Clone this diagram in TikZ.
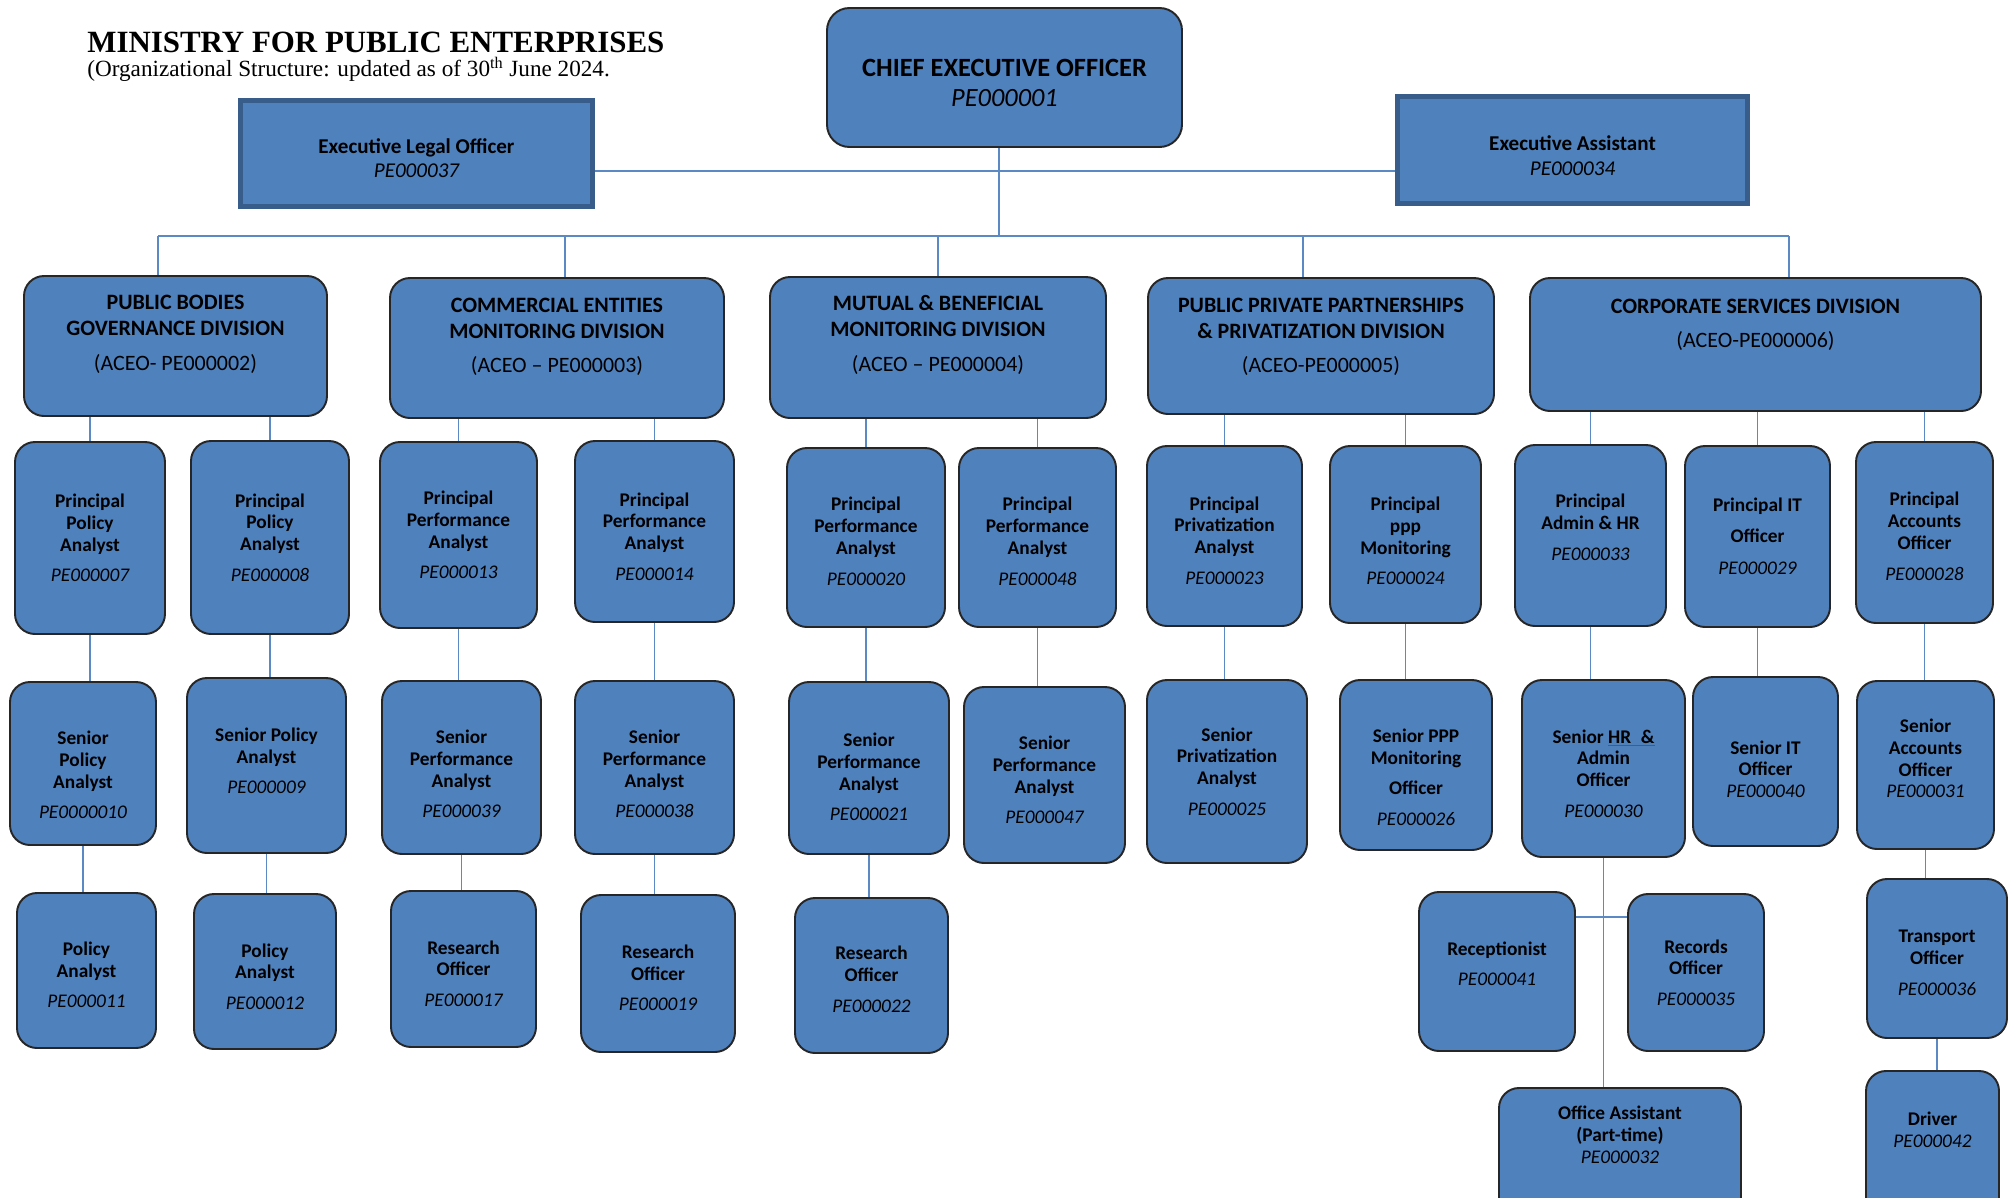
\documentclass[tikz,border=0pt]{standalone}
\usepackage{fontspec}
\setmainfont{Carlito}
\newfontfamily\titlefont{Liberation Serif}
\definecolor{peblue}{RGB}{79,129,189}
\definecolor{peedge}{RGB}{56,93,138}
\definecolor{pelink}{RGB}{91,137,196}
\definecolor{ulblue}{RGB}{40,90,220}
\newcommand{\px}{0.02cm}
\newcommand{\peid}[1]{{\mdseries\itshape #1}}
\newcommand{\markul}[1]{\textcolor{ulblue}{\underline{\textcolor{black}{#1}}}}
\newcommand{\pushdown}[1]{\rule{0pt}{\dimexpr\fontcharht\font`l+#1\relax}}
\tikzset{
  post/.style={draw=black!85, line width=1.1pt, fill=peblue, rounded corners=0.4cm, align=center, inner sep=1pt, font=\fontsize{11}{12.4}\selectfont\bfseries},
  division/.style={post, font=\fontsize{12.5}{14.7}\selectfont\bfseries},
  chief/.style={post, rounded corners=0.45cm, font=\fontsize{15}{17}\selectfont\bfseries},
  staff/.style={draw=peedge, line width=2.8pt, fill=peblue, align=center, font=\fontsize{12}{14}\selectfont\bfseries},
  link/.style={draw=pelink, line width=1.1pt},
  sz/.style 2 args={minimum width=#1*\px, minimum height=#2*\px}
}

\begin{document}
\begin{tikzpicture}[x=\px, y=-\px]
\fill[white] (0,0) rectangle (2011,1197);
\useasboundingbox (0,0) rectangle (2011,1197);
\clip (0,0) rectangle (2011,1197);

\node[anchor=base west, inner sep=0, font=\titlefont\bfseries\fontsize{17.6}{20}\selectfont] (title) at (87,52) {MINISTRY FOR PUBLIC ENTERPRISES};
\node[anchor=base west, inner sep=0, font=\titlefont\fontsize{13.2}{15}\selectfont] (subtitle) at (87,76) {(Organizational Structure: updated as of 30\textsuperscript{th} June 2024.};

\node[chief, sz={355}{139}] (pe01) at (1004.5,77.5) {\pushdown{0.2cm}CHIEF EXECUTIVE OFFICER\\\peid{PE000001}};
\node[staff, sz={352}{106}] (pe37) at (416.5,153.5) {\pushdown{0.18cm}Executive Legal Officer\\\peid{PE000037}};
\node[staff, sz={350}{107}] (pe34) at (1572.5,150) {\pushdown{0.23cm}Executive Assistant\\\peid{PE000034}};

\node[division, sz={303}{140}, text depth=0.52cm] (pe02) at (175.5,346) {PUBLIC BODIES\\GOVERNANCE DIVISION\\[5pt]\textmd{(ACEO- PE000002)}};
\node[division, sz={334}{140}, text depth=0.51cm] (pe03) at (557,348) {COMMERCIAL ENTITIES\\MONITORING DIVISION\\[5pt]\textmd{(ACEO -- PE000003)}};
\node[division, sz={336}{141}, text depth=0.57cm] (pe04) at (938,347.5) {MUTUAL \& BENEFICIAL\\MONITORING DIVISION\\[5pt]\textmd{(ACEO -- PE000004)}};
\node[division, sz={346}{136}, text depth=0.43cm] (pe05) at (1321,346) {PUBLIC PRIVATE PARTNERSHIPS\\\& PRIVATIZATION DIVISION\\[5pt]\textmd{(ACEO-PE000005)}};
\node[division, sz={451}{133}, text depth=0.85cm] (pe06) at (1755.5,344.5) {CORPORATE SERVICES DIVISION\\[5pt]\textmd{(ACEO-PE000006)}};

\node[post, sz={150}{192}] (pe07) at (90,538) {Principal\\Policy\\Analyst\\[5pt]\peid{PE000007}};
\node[post, sz={158}{193}] (pe08) at (270,537.5) {Principal\\Policy\\Analyst\\[5pt]\peid{PE000008}};
\node[post, sz={157}{186}] (pe13) at (458.5,535) {Principal\\Performance\\Analyst\\[5pt]\peid{PE000013}};
\node[post, sz={159}{181}] (pe14) at (654.5,531.5) {\pushdown{0.2cm}Principal\\Performance\\Analyst\\[5pt]\peid{PE000014}};
\node[post, sz={158}{179}] (pe20) at (866,537.5) {\pushdown{0.15cm}Principal\\Performance\\Analyst\\[5pt]\peid{PE000020}};
\node[post, sz={157}{179}] (pe48) at (1037.5,537.5) {\pushdown{0.15cm}Principal\\Performance\\Analyst\\[5pt]\peid{PE000048}};
\node[post, sz={155}{180}] (pe23) at (1224.5,536) {\pushdown{0.18cm}Principal\\Privatization\\Analyst\\[5pt]\peid{PE000023}};
\node[post, sz={151}{177}] (pe24) at (1405.5,534.5) {\pushdown{0.26cm}Principal\\ppp\\Monitoring\\[5pt]\peid{PE000024}};
\node[post, sz={151}{181}, text depth=0.33cm] (pe33) at (1590.5,535.5) {Principal\\Admin \& HR\\[5pt]\peid{PE000033}};
\node[post, sz={145}{181}] (pe29) at (1757.5,536.5) {Principal IT\\[5pt]Officer\\[6pt]\peid{PE000029}};
\node[post, sz={137}{181}] (pe28) at (1924.5,532.5) {\pushdown{0.15cm}Principal\\Accounts\\Officer\\[5pt]\peid{PE000028}};

\node[post, sz={146}{163}] (pe10) at (83,763.5) {\pushdown{0.46cm}Senior\\Policy\\Analyst\\[5pt]\peid{PE0000010}};
\node[post, sz={159}{175}, text depth=0.18cm] (pe09) at (266.5,765.5) {Senior Policy\\Analyst\\[5pt]\peid{PE000009}};
\node[post, sz={159}{173}] (pe39) at (461.5,767.5) {\pushdown{0.26cm}Senior\\Performance\\Analyst\\[5pt]\peid{PE000039}};
\node[post, sz={159}{173}] (pe38) at (654.5,767.5) {\pushdown{0.26cm}Senior\\Performance\\Analyst\\[5pt]\peid{PE000038}};
\node[post, sz={160}{172}] (pe21) at (869,768) {\pushdown{0.36cm}Senior\\Performance\\Analyst\\[5pt]\peid{PE000021}};
\node[post, sz={161}{176}] (pe47) at (1044.5,775) {\pushdown{0.2cm}Senior\\Performance\\Analyst\\[5pt]\peid{PE000047}};
\node[post, sz={160}{183}] (pe25) at (1227,771.5) {Senior\\Privatization\\Analyst\\[5pt]\peid{PE000025}};
\node[post, sz={152}{170}] (pe26) at (1416,765) {\pushdown{0.49cm}Senior PPP\\Monitoring\\[5pt]Officer\\[5pt]\peid{PE000026}};
\node[post, sz={163}{177}] (pe30) at (1603.5,768.5) {\pushdown{0.2cm}Senior \markul{HR\enspace\&}\\Admin\\Officer\\[5pt]\peid{PE000030}};
\node[post, sz={145}{169}] (pe40) at (1765.5,761.5) {\pushdown{0.31cm}Senior IT\\Officer\\\peid{PE000040}};
\node[post, sz={137}{168}, text depth=0.26cm] (pe31) at (1925.5,765) {Senior\\Accounts\\Officer\\\peid{PE000031}};

\node[post, sz={139}{155}] (pe11) at (86.5,970.5) {\pushdown{0.18cm}Policy\\Analyst\\[5pt]\peid{PE000011}};
\node[post, sz={142}{155}] (pe12) at (265,971.5) {\pushdown{0.2cm}Policy\\Analyst\\[5pt]\peid{PE000012}};
\node[post, sz={145}{156}] (pe17) at (463.5,969) {\pushdown{0.18cm}Research\\Officer\\[5pt]\peid{PE000017}};
\node[post, sz={154}{157}] (pe19) at (658,973.5) {\pushdown{0.18cm}Research\\Officer\\[5pt]\peid{PE000019}};
\node[post, sz={153}{155}] (pe22) at (871.5,975.5) {\pushdown{0.15cm}Research\\Officer\\[5pt]\peid{PE000022}};
\node[post, sz={156}{159}, text depth=0.31cm] (pe41) at (1497,971.5) {Receptionist\\[5pt]\peid{PE000041}};
\node[post, sz={136}{157}] (pe35) at (1696,972.5) {Records\\Officer\\[5pt]\peid{PE000035}};
\node[post, sz={140}{159}] (pe36) at (1937,958.5) {\pushdown{0.15cm}Transport\\Officer\\[5pt]\peid{PE000036}};
\node[post, sz={242}{137}, text depth=0.88cm] (pe32) at (1620,1156.5) {Office Assistant\\(Part-time)\\\peid{PE000032}};
\node[post, sz={133}{154}, text depth=0.72cm] (pe42) at (1932.5,1148) {Driver\\\peid{PE000042}};

\coordinate (staff) at (999,171);
\coordinate (busw) at (158,236);
\coordinate (buse) at (1789,236);
\coordinate (tee) at (1602,917);

\draw[link] (pe01.south -| staff) -- (busw -| staff);
\draw[link] (pe37.east |- staff) -- (pe34.west |- staff);
\draw[link] (busw) -- (buse);
\draw[link] (busw) -- (busw |- pe02.north);
\draw[link] ([xshift=8*\px]pe03.north) -- ([xshift=8*\px]pe03.north |- busw);
\draw[link] (pe04.north) -- (pe04.north |- busw);
\draw[link] ([xshift=-18*\px]pe05.north) -- ([xshift=-18*\px]pe05.north |- busw);
\draw[link] (buse) -- (buse |- pe06.north);

\foreach \p/\c in {pe02/pe07, pe02/pe08, pe03/pe13, pe03/pe14, pe04/pe20, pe04/pe48,
  pe05/pe23, pe05/pe24, pe06/pe33, pe06/pe29, pe06/pe28}
  \draw[link] (\c.north) -- (\c.north |- \p.south);

\foreach \p/\c in {pe07/pe10, pe08/pe09, pe13/pe39, pe14/pe38, pe20/pe21, pe48/pe47,
  pe23/pe25, pe24/pe26, pe33/pe30, pe29/pe40, pe28/pe31,
  pe10/pe11, pe09/pe12, pe39/pe17, pe38/pe19, pe21/pe22, pe30/pe32, pe31/pe36, pe36/pe42}
  \draw[link] (\p.south) -- (\p.south |- \c.north);

\draw[link] (pe41.east |- tee) -- (pe35.west |- tee);
\end{tikzpicture}
\end{document}
